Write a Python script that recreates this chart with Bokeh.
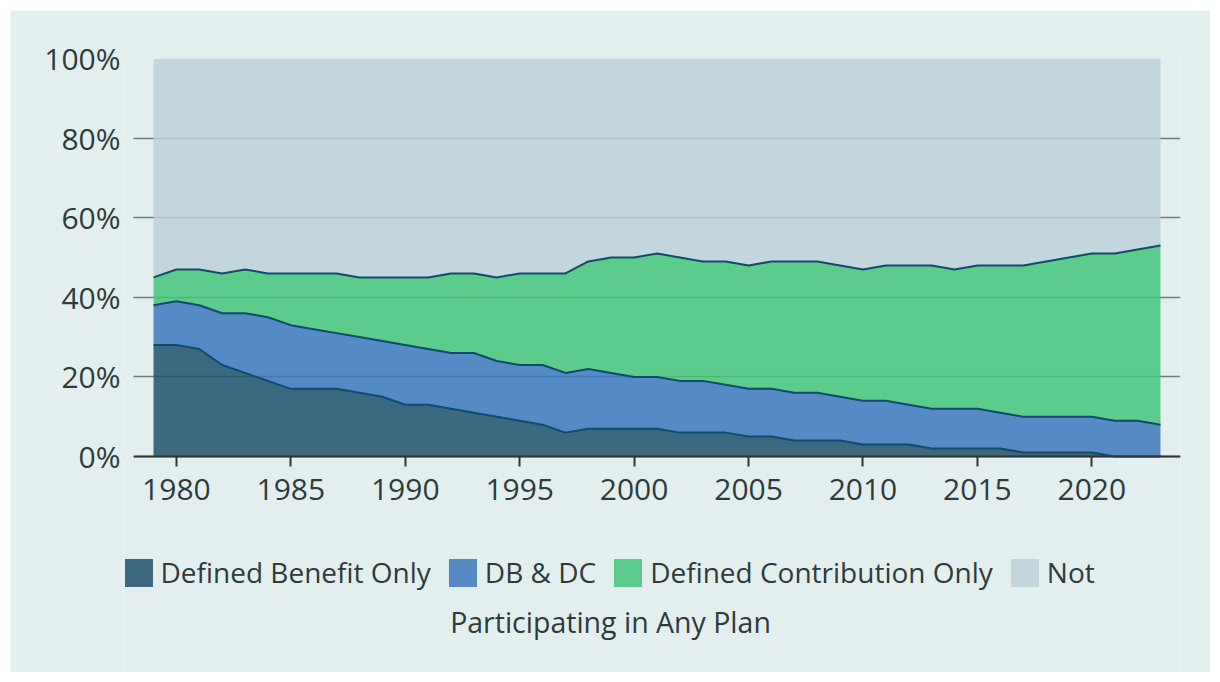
import numpy as np
from bokeh.plotting import figure
from bokeh.models import (ColumnDataSource, Range1d, FixedTicker, PrintfTickFormatter,
                          Legend, LegendItem, Label, BoxAnnotation)
from bokeh.embed import file_html
from bokeh.resources import INLINE

years = list(range(1979, 2024))
db_only = [28, 28, 27, 23, 21, 19, 17, 17, 17, 16, 15, 13, 13, 12, 11, 10, 9, 8, 6, 7, 7, 7, 7,
           6, 6, 6, 5, 5, 4, 4, 4, 3, 3, 3, 2, 2, 2, 2, 1, 1, 1, 1, 0, 0, 0]
db_dc = [10, 11, 11, 13, 15, 16, 16, 15, 14, 14, 14, 15, 14, 14, 15, 14, 14, 15, 15, 15, 14, 13, 13,
         13, 13, 12, 12, 12, 12, 12, 11, 11, 11, 10, 10, 10, 10, 9, 9, 9, 9, 9, 9, 9, 8]
dc_only = [7, 8, 9, 10, 11, 11, 13, 14, 15, 15, 16, 17, 18, 20, 20, 21, 23, 23, 25, 27, 29, 30, 31,
           31, 30, 31, 31, 32, 33, 33, 33, 33, 34, 35, 36, 35, 36, 37, 38, 39, 40, 41, 42, 43, 45]
not_part = [100 - a - b - c for a, b, c in zip(db_only, db_dc, dc_only)]

series_names = ["Defined Benefit Only", "DB & DC", "Defined Contribution Only", "Not"]
legend_tail = "Participating in Any Plan"
x_ticks = [1980, 1985, 1990, 1995, 2000, 2005, 2010, 2015, 2020]
y_ticks = [0, 20, 40, 60, 80, 100]

BG = "#e3efef"
TEXT = "#2f3b3b"
FONT = "Open Sans"
colors = ["#1f506c", "#3c78bd", "#44c67a", "#bdd0d9"]   # drawn at alpha 0.85 over BG
EDGE = "#124a6b"
GRID = "#6e7c7c"

source = ColumnDataSource(dict(year=years, db=db_only, dbdc=db_dc, dc=dc_only, nt=not_part))

# canvas placed at (10, 10); frame top at y=58, zero line at y=456, frame bottom at canvas bottom
OX, OY = 10, 10
W, H = 1200, 662
FRAME_L, FRAME_R, FRAME_T = 123, 1180, 58
AXIS_L = 133                      # where grid lines / axis line begin
PX_FIRST, PX_LAST = 153, 1160     # pixel columns of first and last year
ppy = (PX_LAST - PX_FIRST) / (years[-1] - years[0])
x_lo = years[0] - (PX_FIRST - FRAME_L) / ppy
x_hi = years[-1] + (FRAME_R - PX_LAST) / ppy
x_axis_lo = years[0] - (PX_FIRST - AXIS_L) / ppy

zero_px = 456 - FRAME_T
frame_h = OY + H - FRAME_T
y_start = -100.0 * (frame_h - zero_px) / zero_px
frame_bottom = OY + H

p = figure(width=W, height=H, output_backend="svg", toolbar_location=None,
           x_range=Range1d(x_lo, x_hi), y_range=Range1d(y_start, 100),
           min_border_left=FRAME_L - OX, min_border_right=OX + W - FRAME_R,
           min_border_top=FRAME_T - OY, min_border_bottom=0)
p.margin = (OY, 10, 10, OX)
p.border_fill_color = BG
p.background_fill_color = BG
p.outline_line_color = None

renderers = p.varea_stack(stackers=["db", "dbdc", "dc", "nt"], x="year", source=source,
                          color=colors, fill_alpha=0.85)

cum = np.cumsum(np.array([db_only, db_dc, dc_only]), axis=0)
for row in cum:
    p.line(years, row, line_color=EDGE, line_width=2)

# grid
p.xgrid.grid_line_color = None
p.ygrid.ticker = FixedTicker(ticks=y_ticks)
p.ygrid.grid_line_color = GRID
p.ygrid.grid_line_width = 1.5

# keep the strip left of the axis start clean
p.add_layout(BoxAnnotation(right=x_axis_lo, bottom=-2, fill_color=BG, fill_alpha=1,
                           line_alpha=0))

# axes
p.xaxis.fixed_location = 0
p.xaxis.bounds = (x_axis_lo, x_hi)
p.xaxis.ticker = FixedTicker(ticks=x_ticks)
p.xaxis.axis_line_color = "#333333"
p.xaxis.axis_line_width = 2
p.xaxis.major_tick_line_color = "#333333"
p.xaxis.major_tick_line_width = 2
p.xaxis.major_tick_out = 10
p.xaxis.major_tick_in = 0
p.xaxis.minor_tick_line_color = None
p.xaxis.major_label_standoff = 12
p.xaxis.major_label_text_font = FONT
p.xaxis.major_label_text_font_size = "30px"
p.xaxis.major_label_text_color = TEXT

p.yaxis.ticker = FixedTicker(ticks=y_ticks)
p.yaxis.formatter = PrintfTickFormatter(format="%d%%")
p.yaxis.axis_line_color = None
p.yaxis.major_tick_line_color = None
p.yaxis.minor_tick_line_color = None
p.yaxis.major_tick_out = 0
p.yaxis.major_label_standoff = 3
p.yaxis.major_label_text_font = FONT
p.yaxis.major_label_text_font_size = "30px"
p.yaxis.major_label_text_color = TEXT

# legend (screen offsets from the frame's bottom-left corner); area swatches are inset 10%
legend = Legend(items=[LegendItem(label=n, renderers=[r]) for n, r in zip(series_names, renderers)],
                orientation="horizontal", location=(120.5 - FRAME_L, frame_bottom - 591),
                glyph_width=35, glyph_height=35, label_height=35, label_standoff=5, spacing=14,
                padding=0, margin=0, border_line_alpha=0, background_fill_alpha=0,
                label_text_font=FONT, label_text_font_size="28px", label_text_color=TEXT)
p.add_layout(legend)

p.add_layout(Label(x=610 - FRAME_L, y=frame_bottom - 621, x_units="screen", y_units="screen",
                   text=legend_tail, text_align="center", text_baseline="alphabetic",
                   text_font=FONT, text_font_size="28.5px", text_color=TEXT))

open("out.html", "w").write(file_html(p, INLINE))
